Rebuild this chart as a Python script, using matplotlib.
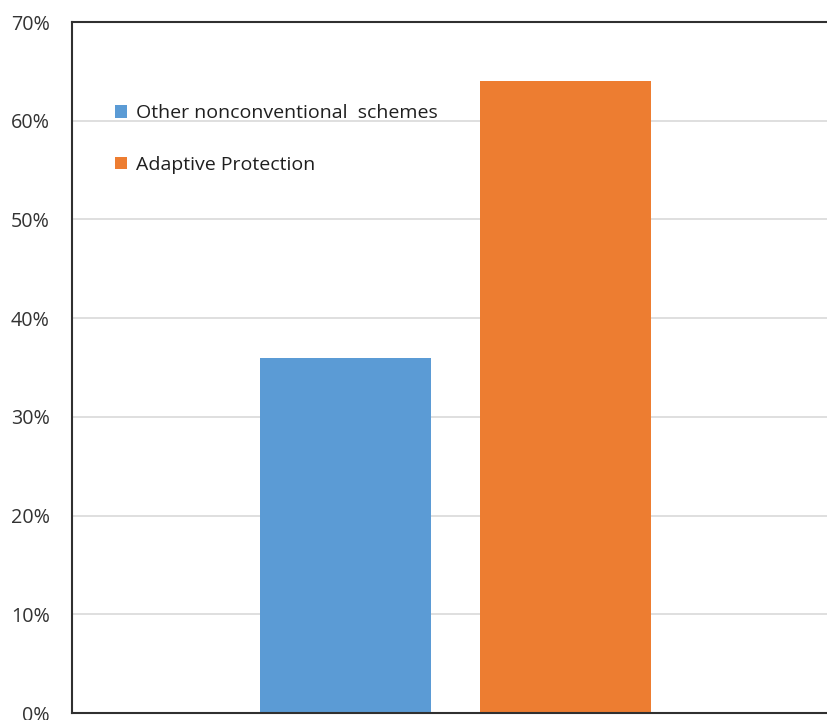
import matplotlib
matplotlib.use("Agg")
import matplotlib.pyplot as plt
from matplotlib.patches import Patch
from matplotlib.ticker import PercentFormatter

plt.rcParams['font.family'] = ['Open Sans', 'DejaVu Sans']

# data
schemes = ["Other nonconventional  schemes", "Adaptive Protection"]
shares = [36, 64]
colors = ["#5b9bd5", "#ed7d31"]
yticks = [0, 10, 20, 30, 40, 50, 60, 70]

fig = plt.figure(figsize=(8.28, 7.2), dpi=100)
ax = fig.add_axes([0.087, 0.0097, 0.913, 0.9597])

ax.bar([0, 1], shares, width=0.78, color=colors, zorder=2)

ax.set_ylim(0, 70)
ax.set_xlim(-1.243, 2.193)
ax.set_yticks(yticks)
ax.yaxis.set_major_formatter(PercentFormatter(decimals=0))
ax.set_xticks([])
ax.grid(axis='y', color='#d9d9d9', linewidth=1.2, zorder=0)
ax.tick_params(axis='y', length=0, pad=16, labelsize=14.2, labelcolor='#333333')

for side in ['left', 'top', 'bottom']:
    ax.spines[side].set_color('#303030')
    ax.spines[side].set_linewidth(1.5)
ax.spines['right'].set_visible(False)

handles = [Patch(facecolor=c, edgecolor='none') for c in colors]
leg = ax.legend(handles, schemes, loc='upper left', bbox_to_anchor=(0.139, 0.855),
                bbox_transform=fig.transFigure, frameon=False, fontsize=14,
                handlelength=0.6, handleheight=0.6, handletextpad=0.45,
                labelspacing=1.72, borderaxespad=0, borderpad=0)
for t in leg.get_texts():
    t.set_color('#1f1f1f')

fig.savefig("out.png", dpi=100)
